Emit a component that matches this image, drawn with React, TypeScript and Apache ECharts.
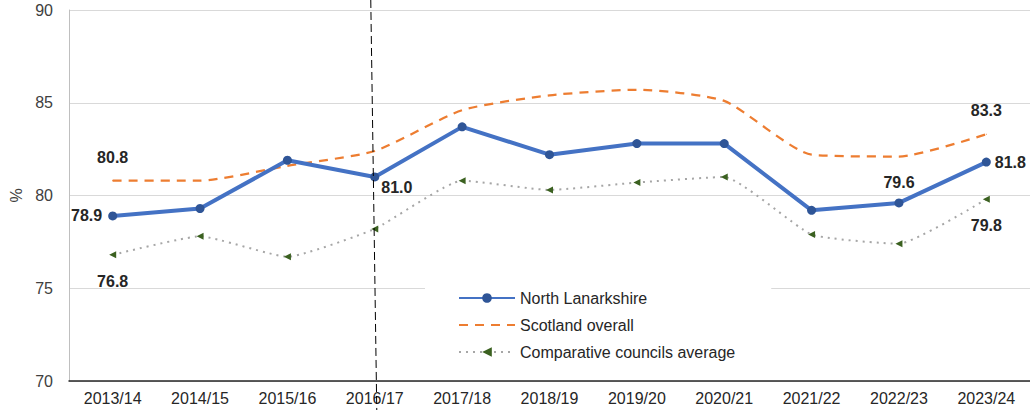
import React, { useEffect, useRef } from "react";
import * as echarts from "echarts";

const categories = ["2013/14", "2014/15", "2015/16", "2016/17", "2017/18", "2018/19", "2019/20", "2020/21", "2021/22", "2022/23", "2023/24"];
const northLanarkshire = [78.9, 79.3, 81.9, 81.0, 83.7, 82.2, 82.8, 82.8, 79.2, 79.6, 81.8];
const scotlandOverall = [80.8, 80.8, 81.6, 82.4, 84.6, 85.4, 85.7, 85.1, 82.2, 82.1, 83.3];
const comparativeAverage = [76.8, 77.8, 76.7, 78.2, 80.8, 80.3, 80.7, 81.0, 77.9, 77.4, 79.8];
const yTicks = { min: 70, max: 90, interval: 5 };
const markerCategory = "2016/17";

const FONT = "'Liberation Sans', Arial, sans-serif";
const labelStyle = { show: true, fontFamily: FONT, fontSize: 16, fontWeight: "bold" as const, color: "#262626", formatter: (p: any) => Number(p.value).toFixed(1) };

function withLabels(values: number[], labels: Record<number, any>, extra: any = {}) {
  return values.map((v, i) => (labels[i] ? { value: v, ...extra, label: { ...labelStyle, ...labels[i] } } : v));
}

export default function App() {
  const ref = useRef<HTMLDivElement>(null);
  useEffect(() => {
    document.body.style.margin = "0";
    if (!ref.current) return;
    const chart = echarts.init(ref.current, null, { renderer: "svg" });
    chart.setOption({
      animation: false,
      backgroundColor: "#ffffff",
      textStyle: { fontFamily: FONT },
      grid: { left: 66, right: 0, top: 10, bottom: 29, containLabel: false },
      legend: {
        orient: "vertical",
        left: 425,
        top: 284,
        padding: [6, 36, 8, 33],
        backgroundColor: "#ffffff",
        itemWidth: 56,
        itemHeight: 12,
        itemGap: 11,
        textStyle: { fontFamily: FONT, fontSize: 16, color: "#262626" },
        data: [
          { name: "North Lanarkshire" },
          { name: "Scotland overall", itemStyle: { opacity: 0 } },
          { name: "Comparative councils average", itemStyle: { color: "#3B6120" } },
        ],
      },
      xAxis: {
        type: "category",
        data: categories,
        boundaryGap: true,
        axisLine: { lineStyle: { color: "#262626", width: 1.5 } },
        axisTick: { show: false },
        axisLabel: { fontFamily: FONT, fontSize: 16, color: "#262626", margin: 9 },
      },
      yAxis: {
        type: "value",
        min: yTicks.min,
        max: yTicks.max,
        interval: yTicks.interval,
        name: "%",
        nameLocation: "middle",
        nameGap: 45,
        nameRotate: 90,
        nameTextStyle: { fontFamily: FONT, fontSize: 16, color: "#404040" },
        axisLine: { show: true, lineStyle: { color: "#BFBFBF" } },
        axisTick: { show: false },
        axisLabel: { fontFamily: FONT, fontSize: 16, color: "#404040", margin: 16 },
        splitLine: { lineStyle: { color: "#D9D9D9", width: 1 } },
      },
      series: [
        {
          name: "Comparative councils average",
          type: "line",
          z: 2,
          smooth: 0.15,
          data: withLabels(comparativeAverage, {
            0: { position: "bottom", distance: 15 },
            10: { position: "bottom", distance: 15 },
          }),
          symbol: "triangle",
          symbolRotate: 90,
          symbolSize: 7,
          itemStyle: { color: "#3B6120" },
          lineStyle: { color: "#A6A6A6", width: 2, type: [2, 5] },
          label: { show: false },
        },
        {
          name: "Scotland overall",
          type: "line",
          z: 3,
          smooth: 0.2,
          symbol: "none",
          data: withLabels(
            scotlandOverall,
            {
              0: { position: "top", distance: 15 },
              10: { position: "top", distance: 15 },
            },
            { symbol: "circle", symbolSize: 1 }
          ),
          itemStyle: { color: "#ED7D31" },
          lineStyle: { color: "#ED7D31", width: 2.25, type: [9, 7] },
          label: { show: false },
        },
        {
          name: "North Lanarkshire",
          type: "line",
          z: 4,
          symbol: "circle",
          symbolSize: 9,
          data: withLabels(northLanarkshire, {
            0: { position: "left", distance: 6 },
            3: { position: "right", distance: 2, offset: [0, 11] },
            9: { position: "top", distance: 8 },
            10: { position: "right", distance: 4 },
          }),
          itemStyle: { color: "#2F5597" },
          lineStyle: { color: "#4472C4", width: 4 },
          label: { show: false },
        },
      ],
    });
    const x = chart.convertToPixel({ xAxisIndex: 0 }, markerCategory) as number;
    chart.setOption({
      graphic: [
        {
          type: "line",
          z: 10,
          shape: { x1: x - 4, y1: 0, x2: x + 2, y2: 410 },
          style: { stroke: "#000000", lineWidth: 1, lineDash: [8, 4] },
        },
      ],
    });
    return () => chart.dispose();
  }, []);
  return <div ref={ref} style={{ width: 1030, height: 410 }} />;
}
